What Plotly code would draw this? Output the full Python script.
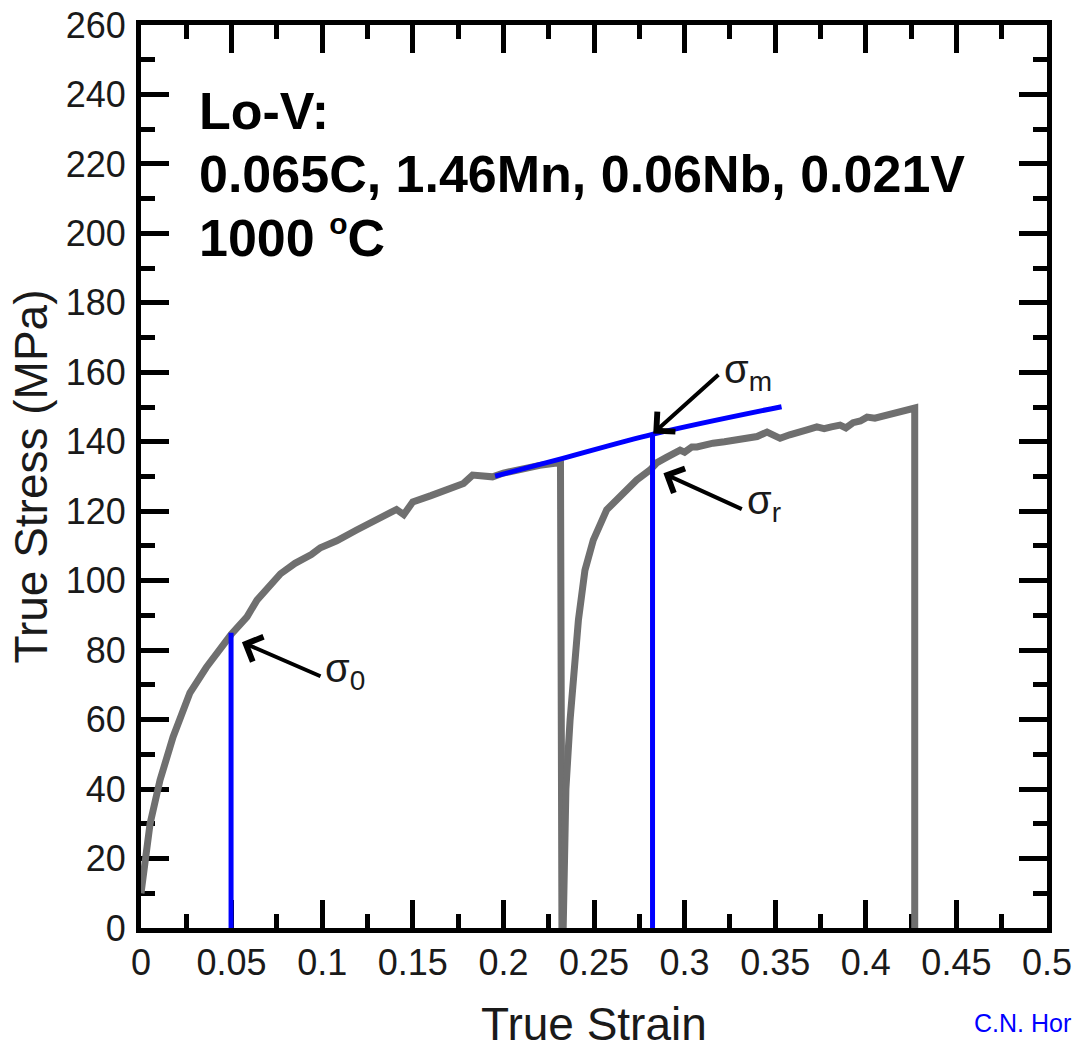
import plotly.graph_objects as go

# Flow curve of the Lo-V steel at 1000 C: first loading, unload, reload to fracture
strain_first = [0.0, 0.005, 0.0105, 0.0177, 0.027, 0.036, 0.0497, 0.0585, 0.064, 0.072,
                0.077, 0.085, 0.094, 0.099, 0.108, 0.119, 0.128, 0.137, 0.141, 0.145,
                0.150, 0.160, 0.172, 0.178, 0.183, 0.188, 0.194, 0.200, 0.210, 0.220,
                0.2315, 0.2323]
stress_first = [10, 30, 42.6, 55, 67.7, 75, 84.5, 89.6, 94.4, 99,
                102, 105, 107.5, 109.5, 111.5, 114.6, 117, 119.8, 120.5, 119,
                122.7, 124.5, 127, 128, 130.4, 130, 129.9, 131, 132.2, 133.2,
                134, 0]

strain_second = [0.2330, 0.2335, 0.2345, 0.2368, 0.2390, 0.2414, 0.245, 0.2496, 0.257,
                 0.2643, 0.2736, 0.281, 0.2848, 0.290, 0.2975, 0.300, 0.304, 0.3068,
                 0.310, 0.3157, 0.322, 0.328, 0.3344, 0.340, 0.3455, 0.349, 0.3527,
                 0.358, 0.363, 0.368, 0.373, 0.377, 0.381, 0.3858, 0.389, 0.393, 0.397,
                 0.4007, 0.405, 0.410, 0.415, 0.420, 0.426, 0.427, 0.427]
stress_second = [0, 28, 40, 59.9, 75, 88.7, 103, 111.7, 120.4,
                 124.2, 129, 131.9, 134, 135.5, 137.6, 137, 138.5, 138.5,
                 139, 139.6, 140, 140.5, 141, 141.5, 142.8, 142, 141,
                 142, 143, 143.5, 144.3, 143.8, 144.3, 144.8, 144, 145.5, 146,
                 147.1, 146.8, 147.5, 148.3, 148.5, 149.7, 149.7, 0]

# Extrapolated flow stress line (sigma_m construction)
strain_fit = [0.1954, 0.2312, 0.2827, 0.3535]
stress_fit = [130.1, 135.0, 142.2, 150.1]

# Characteristic stresses
sigma0_strain, sigma0_stress = 0.0497, 85.0
sigmam_strain, sigmam_stress = 0.2823, 142.2

x_tickvals = [0, 0.05, 0.1, 0.15, 0.2, 0.25, 0.3, 0.35, 0.4, 0.45, 0.5]
x_ticktext = ["0", "0.05", "0.1", "0.15", "0.2", "0.25", "0.3", "0.35", "0.4", "0.45", "0.5"]
y_tickvals = list(range(0, 261, 20))
y_ticktext = [str(v) for v in y_tickvals]

FONT = "Liberation Sans, Arial, sans-serif"
GRAY = "#6f6f6f"
BLUE = "#0000ff"

fig = go.Figure()

fig.add_trace(go.Scatter(x=strain_first, y=stress_first, mode="lines",
                         line=dict(color=GRAY, width=7), showlegend=False))
fig.add_trace(go.Scatter(x=strain_second, y=stress_second, mode="lines",
                         line=dict(color=GRAY, width=7), showlegend=False))
fig.add_trace(go.Scatter(x=strain_fit, y=stress_fit, mode="lines",
                         line=dict(color=BLUE, width=5, shape="spline"), showlegend=False))
fig.add_trace(go.Scatter(x=[sigma0_strain, sigma0_strain], y=[0, sigma0_stress], mode="lines",
                         line=dict(color=BLUE, width=5), showlegend=False))
fig.add_trace(go.Scatter(x=[sigmam_strain, sigmam_strain], y=[0, sigmam_stress], mode="lines",
                         line=dict(color=BLUE, width=5), showlegend=False))

axis_common = dict(
    showline=True, linewidth=5, linecolor="black", mirror="allticks",
    ticks="inside", ticklen=28, tickwidth=5, tickcolor="black",
    showgrid=False, zeroline=False, automargin=False, layer="below traces",
    tickfont=dict(family=FONT, size=36, color="#1a1a1a"),
)

fig.update_xaxes(
    range=[0, 0.5], tickmode="array", tickvals=x_tickvals, ticktext=x_ticktext,
    minor=dict(dtick=0.025, tick0=0, ticks="inside", ticklen=14, tickwidth=5, tickcolor="black"),
    ticklabelstandoff=-1,
    **axis_common,
)
fig.update_yaxes(
    range=[0, 260], tickmode="array", tickvals=y_tickvals, ticktext=y_ticktext,
    minor=dict(dtick=10, tick0=0, ticks="inside", ticklen=14, tickwidth=5, tickcolor="black"),
    ticklabelstandoff=3,
    **axis_common,
)

# Axis titles, placed outside the tick labels
fig.add_annotation(x=0.5, y=0, xref="paper", yref="paper", yshift=-96,
                   text="True Strain", showarrow=False, xanchor="center", yanchor="middle",
                   font=dict(family=FONT, size=46, color="#1a1a1a"))
fig.add_annotation(x=0, y=0.5, xref="paper", yref="paper", xshift=-111,
                   text="True Stress (MPa)", textangle=-90, showarrow=False,
                   xanchor="center", yanchor="middle",
                   font=dict(family=FONT, size=46, color="#1a1a1a"))

# Arrows pointing at the characteristic stresses
arrows = [
    (0.0557, 82.3, 0.0999, 72.3),
    (0.2827, 142.4, 0.3195, 159.7),
    (0.2883, 130.9, 0.3324, 120.4),
]
for hx, hy, tx, ty in arrows:
    fig.add_annotation(x=hx, y=hy, ax=tx, ay=ty, xref="x", yref="y", axref="x", ayref="y",
                       text="", showarrow=True, arrowhead=4, arrowsize=1.3, arrowwidth=4,
                       arrowcolor="black")

labels = [
    ("σ<sub>0</sub>", 0.1004, 74.0),
    ("σ<sub>m</sub>", 0.3206, 160.0),
    ("σ<sub>r</sub>", 0.3333, 122.5),
]
for txt, lx, ly in labels:
    fig.add_annotation(x=lx, y=ly, xref="x", yref="y", text=txt, showarrow=False,
                       xanchor="left", yanchor="middle",
                       font=dict(family=FONT, size=40, color="#1a1a1a"))

header = [
    ("Lo-V:", 235.1),
    ("0.065C, 1.46Mn, 0.06Nb, 0.021V", 217.2),
    ("1000 <sup><span style='font-size:30px'>o</span></sup>C", 199.1),
]
for txt, ly in header:
    fig.add_annotation(x=0.0309, y=ly, xref="x", yref="y", text="<b>" + txt + "</b>",
                       showarrow=False, xanchor="left", yanchor="middle",
                       font=dict(family=FONT, size=52, color="black"))

fig.add_annotation(x=1.0, y=0, xref="paper", yref="paper", xshift=-75, yshift=-111,
                   text="C.N. Hor", showarrow=False, xanchor="left", yanchor="bottom",
                   font=dict(family=FONT, size=25, color=BLUE))

fig.update_layout(
    width=1075, height=1045,
    margin=dict(l=141, r=28, t=25, b=117),
    paper_bgcolor="white", plot_bgcolor="white",
    showlegend=False,
)

fig.write_html("out.html")
